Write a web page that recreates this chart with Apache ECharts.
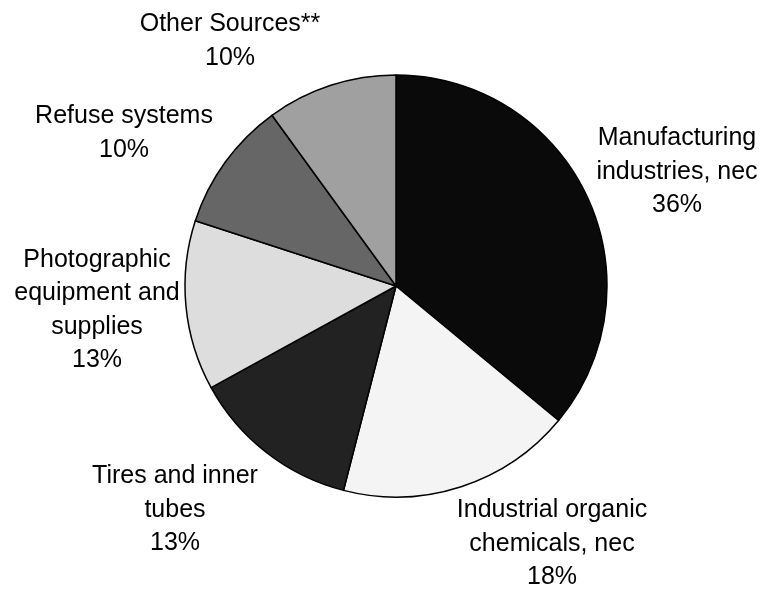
<!DOCTYPE html>
<html>
<head>
<meta charset="utf-8">
<script src="https://cdn.jsdelivr.net/npm/echarts@6/dist/echarts.min.js"></script>
<style>
  html, body { margin: 0; padding: 0; background: #fff; }
  #pie { width: 771px; height: 590px; }
</style>
</head>
<body>
<div id="pie"></div>
<script>
// sources, clockwise from 12 o'clock
var names = [
    'Manufacturing\nindustries, nec',
    'Industrial organic\nchemicals, nec',
    'Tires and inner\ntubes',
    'Photographic\nequipment and\nsupplies',
    'Refuse systems',
    'Other Sources**'
];
var shares = [36, 18, 13, 13, 10, 10];
var greys = ['#0a0a0a', '#f4f4f4', '#222222', '#dddddd', '#666666', '#a0a0a0'];

// where each label block sits (centre of the text), by slice index
var labelSpots = [[677, 172], [552, 544], [175, 510], [97, 310], [124, 133], [230, 41]];

var myChart = echarts.init(document.getElementById('pie'));

myChart.setOption({
    animation: false,
    series: [
        {
            type: 'pie',
            center: [396, 286],
            radius: 211,
            startAngle: 90,
            clockwise: true,
            silent: true,
            data: names.map(function (n, i) {
                return { name: n, value: shares[i], itemStyle: { color: greys[i] } };
            }),
            itemStyle: {
                borderColor: '#000',
                borderWidth: 1.5
            },
            label: {
                show: true,
                position: 'outside',
                alignTo: 'none',
                overflow: 'none',
                formatter: function (p) {
                    return p.name + '\n' + Math.round(p.percent) + '%';
                },
                fontFamily: '"Liberation Sans", Arial, sans-serif',
                fontSize: 25,
                lineHeight: 33.5,
                color: '#000',
                align: 'center'
            },
            labelLine: { show: false },
            labelLayout: function (params) {
                var s = labelSpots[params.dataIndex];
                return { x: s[0], y: s[1], align: 'center', verticalAlign: 'middle' };
            },
            emphasis: { disabled: true }
        }
    ]
});
</script>
</body>
</html>
